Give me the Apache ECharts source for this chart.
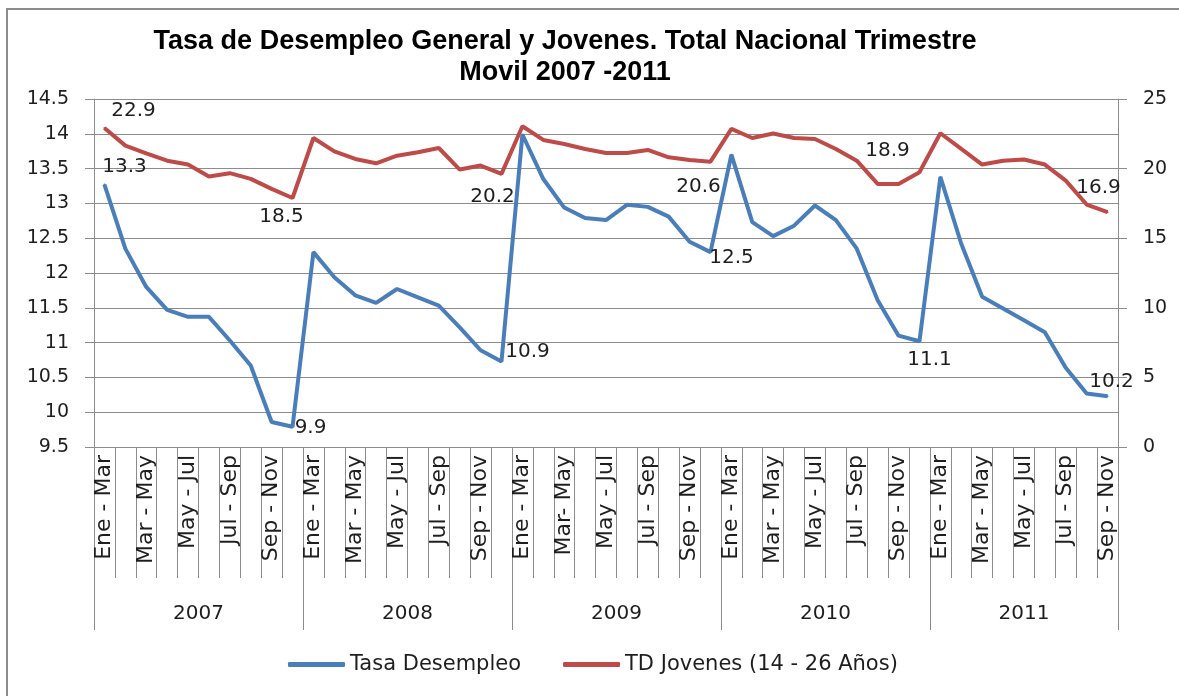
<!DOCTYPE html>
<html>
<head>
<meta charset="utf-8">
<script src="https://cdn.jsdelivr.net/npm/echarts@6/dist/echarts.min.js"></script>
<style>
    html, body { margin: 0; padding: 0; background: #fff; }
    #chart { width: 1179px; height: 696px; }
</style>
</head>
<body>
<div id="chart"></div>
<script>
// categorias (trimestre movil)
var cats = [
    'Ene - Mar', 'Feb - Abr', 'Mar - May', 'Abr - Jun', 'May - Jul', 'Jun - Ago', 'Jul - Sep', 'Ago - Oct', 'Sep - Nov', 'Oct - Dic',
    'Ene - Mar', 'Feb - Abr', 'Mar - May', 'Abr - Jun', 'May - Jul', 'Jun - Ago', 'Jul - Sep', 'Ago - Oct', 'Sep - Nov', 'Oct - Dic',
    'Ene - Mar', 'Feb - Abr', 'Mar- May', 'Abr - Jun', 'May - Jul', 'Jun - Ago', 'Jul - Sep', 'Ago - Oct', 'Sep - Nov', 'Oct - Dic',
    'Ene - Mar', 'Feb - Abr', 'Mar - May', 'Abr - Jun', 'May - Jul', 'Jun - Ago', 'Jul - Sep', 'Ago - Oct', 'Sep - Nov', 'Oct - Dic',
    'Ene - Mar', 'Feb - Abr', 'Mar - May', 'Abr - Jun', 'May - Jul', 'Jun - Ago', 'Jul - Sep', 'Ago - Oct', 'Sep - Nov'
];
var years = ['2007', '2008', '2009', '2010', '2011'];
var yearCounts = [10, 10, 10, 10, 9];

// Tasa Desempleo (eje izquierdo)
var tasaDesempleo = [
    13.27, 12.35, 11.80, 11.47, 11.37, 11.37, 11.03, 10.67, 9.86, 9.79,
    12.30, 11.94, 11.68, 11.57, 11.77, 11.65, 11.53, 11.22, 10.89, 10.73,
    13.99, 13.35, 12.94, 12.79, 12.76, 12.98, 12.95, 12.81, 12.45, 12.30,
    13.70, 12.73, 12.53, 12.68, 12.97, 12.76, 12.35, 11.61, 11.10, 11.02,
    13.38, 12.42, 11.66, 11.49, 11.32, 11.15, 10.64, 10.27, 10.23
];
// TD Jovenes (eje derecho)
var tdJovenes = [
    22.92, 21.65, 21.10, 20.57, 20.29, 19.43, 19.67, 19.26, 18.54, 17.89,
    22.20, 21.24, 20.69, 20.38, 20.93, 21.17, 21.48, 19.93, 20.22, 19.62,
    23.04, 22.06, 21.77, 21.41, 21.12, 21.12, 21.34, 20.81, 20.62, 20.50,
    22.85, 22.20, 22.52, 22.20, 22.13, 21.41, 20.57, 18.90, 18.90, 19.74,
    22.54, 21.41, 20.29, 20.57, 20.65, 20.29, 19.14, 17.42, 16.87
];

// etiquetas de datos
var tasaLabelIdx = [0, 9, 19, 29, 39, 48];
var tasaLabelText = ['13.3', '9.9', '10.9', '12.5', '11.1', '10.2'];
var jovLabelIdx = [0, 9, 19, 29, 38, 48];
var jovLabelText = ['22.9', '18.5', '20.2', '20.6', '18.9', '16.9'];

var leftTicks = { min: 9.5, max: 14.5, interval: 0.5 };
var rightTicks = { min: 0, max: 25, interval: 5 };

var FONT = 'DejaVu Sans';
var GRIS = '#8c8c8c';
var TXT = '#1e1e1e';

// desplazamientos de etiquetas (estilo)
var tasaOffsets = [[20, -18], [18, 1], [26, -10], [21, 6], [10, 19], [4, -14]];
var jovOffsets = [[29, -17], [-11, 19], [-9, 23], [-12, 25], [-11, -33], [-9, -24]];

function buildData(values, idxs, texts, offsets) {
    return values.map(function (v, i) {
        var k = idxs.indexOf(i);
        if (k < 0) return v;
        return {
            value: v,
            label: {
                show: true,
                position: 'inside',
                offset: offsets[k],
                formatter: texts[k],
                fontFamily: FONT,
                fontSize: 20,
                color: TXT
            }
        };
    });
}

// eje de años: 2 posiciones por categoria
var yearSlots = [];
for (var s = 0; s <= cats.length * 2; s++) yearSlots.push(String(s));
var yearBounds = [];
var yearCenters = {};
var acc = 0;
for (var y = 0; y < years.length; y++) {
    yearBounds.push(acc * 2);
    yearCenters[acc * 2 + yearCounts[y]] = years[y];
    acc += yearCounts[y];
}
yearBounds.push(acc * 2);

var myChart = echarts.init(document.getElementById('chart'), null, { renderer: 'canvas' });
var option = {
    animation: false,
    backgroundColor: '#fff',
    graphic: [{
        type: 'rect',
        shape: { x: 7, y: 9, width: 1250, height: 760 },
        style: { fill: 'none', stroke: GRIS, lineWidth: 2 },
        silent: true
    }, {
        type: 'text',
        x: 565,
        y: 57,
        style: {
            text: 'Tasa de Desempleo General y Jovenes. Total Nacional Trimestre\nMovil 2007 -2011',
            font: 'bold 27px "Liberation Sans", Arial, sans-serif',
            fill: '#000',
            align: 'center',
            textAlign: 'center',
            verticalAlign: 'middle',
            textVerticalAlign: 'middle',
            lineHeight: 31
        },
        silent: true
    }],
    legend: {
        left: 283,
        top: 649,
        itemWidth: 57,
        itemHeight: 5,
        itemGap: 42,
        icon: 'roundRect',
        textStyle: { fontFamily: FONT, fontSize: 21, color: TXT },
        data: ['Tasa Desempleo', 'TD Jovenes (14 - 26 Años)']
    },
    grid: { left: 94, right: 61, top: 99, bottom: 249, containLabel: false },
    xAxis: [{
        type: 'category',
        data: cats,
        boundaryGap: true,
        axisLine: { lineStyle: { color: GRIS, width: 1 } },
        axisTick: { show: true, interval: 0, length: 131, lineStyle: { color: GRIS } },
        axisLabel: {
            interval: 1,
            rotate: 90,
            margin: 8,
            fontFamily: FONT,
            fontSize: 22,
            color: TXT
        },
        splitLine: { show: false }
    }, {
        type: 'category',
        data: yearSlots,
        boundaryGap: false,
        position: 'bottom',
        axisLine: { show: false },
        axisTick: {
            show: true,
            length: 183,
            lineStyle: { color: GRIS },
            interval: function (index) { return yearBounds.indexOf(index) >= 0; }
        },
        axisLabel: {
            interval: function (index) { return yearCenters[index] !== undefined; },
            formatter: function (value, index) { return yearCenters[index] || ''; },
            margin: 157,
            fontFamily: FONT,
            fontSize: 20,
            color: TXT
        },
        splitLine: { show: false }
    }],
    yAxis: [{
        type: 'value',
        min: leftTicks.min,
        max: leftTicks.max,
        interval: leftTicks.interval,
        axisLine: { show: true, lineStyle: { color: GRIS } },
        axisTick: { show: true, length: 9, lineStyle: { color: GRIS } },
        axisLabel: { margin: 25, fontFamily: FONT, fontSize: 19, color: TXT },
        splitLine: { show: true, lineStyle: { color: GRIS, width: 1 } }
    }, {
        type: 'value',
        position: 'right',
        min: rightTicks.min,
        max: rightTicks.max,
        interval: rightTicks.interval,
        axisLine: { show: true, lineStyle: { color: GRIS } },
        axisTick: { show: true, length: 9, lineStyle: { color: GRIS } },
        axisLabel: { margin: 25, fontFamily: FONT, fontSize: 19, color: TXT },
        splitLine: { show: false }
    }],
    series: [{
        name: 'Tasa Desempleo',
        type: 'line',
        xAxisIndex: 0,
        yAxisIndex: 0,
        symbol: 'circle',
        symbolSize: 2,
        showAllSymbol: true,
        color: '#4a7ebb',
        lineStyle: { width: 4, color: '#4a7ebb' },
        itemStyle: { color: '#4a7ebb' },
        emphasis: { disabled: true },
        z: 3,
        data: buildData(tasaDesempleo, tasaLabelIdx, tasaLabelText, tasaOffsets)
    }, {
        name: 'TD Jovenes (14 - 26 Años)',
        type: 'line',
        xAxisIndex: 0,
        yAxisIndex: 1,
        symbol: 'circle',
        symbolSize: 2,
        showAllSymbol: true,
        color: '#be4b48',
        lineStyle: { width: 4, color: '#be4b48' },
        itemStyle: { color: '#be4b48' },
        emphasis: { disabled: true },
        z: 2,
        data: buildData(tdJovenes, jovLabelIdx, jovLabelText, jovOffsets)
    }]
};
myChart.setOption(option);
</script>
</body>
</html>
